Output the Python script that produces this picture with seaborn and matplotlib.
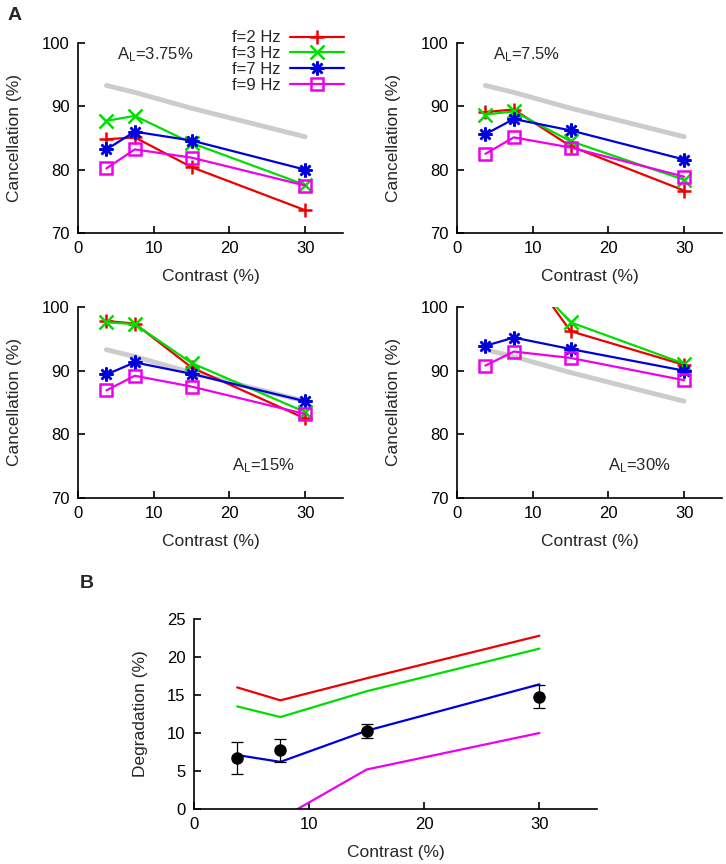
import numpy as np
import pandas as pd
import matplotlib
matplotlib.use("Agg")
import matplotlib.pyplot as plt
import seaborn as sns

sns.set_style("ticks")
plt.rcParams['font.family'] = ['Liberation Sans', 'DejaVu Sans']
plt.rcParams['mathtext.default'] = 'regular'

contrast = [3.75, 7.5, 15, 30]
freqs = ['f=2 Hz', 'f=3 Hz', 'f=7 Hz', 'f=9 Hz']
colors = ['#ee0000', '#00dd00', '#0000dd', '#ee00ee']
markers = ['+', 'x', (8, 2, 0), 's']

# gray reference curve (same in all four panels)
reference = [93.3, 92.2, 89.7, 85.2]

amp_labels = ['3.75%', '7.5%', '15%', '30%']
cancel_375 = [[84.8, 85.1, 80.4, 73.6],
              [87.7, 88.5, 84.2, 77.6],
              [83.2, 86.0, 84.6, 80.0],
              [80.2, 83.2, 81.9, 77.5]]
cancel_75 = [[89.1, 89.5, 83.7, 76.7],
             [88.7, 89.2, 84.5, 78.4],
             [85.6, 88.0, 86.2, 81.6],
             [82.5, 85.1, 83.5, 78.9]]
cancel_15 = [[97.8, 97.4, 90.5, 82.5],
             [97.6, 97.3, 91.2, 83.5],
             [89.4, 91.3, 89.5, 85.2],
             [86.9, 89.2, 87.5, 83.2]]
cancel_30 = [[110.0, 108.5, 96.2, 90.9],
             [109.0, 107.2, 97.6, 91.1],
             [93.9, 95.2, 93.4, 90.0],
             [90.8, 93.0, 92.0, 88.5]]
panels = [cancel_375, cancel_75, cancel_15, cancel_30]

# panel B
degradation = [[16.0, 14.3, 17.2, 22.8],
               [13.5, 12.1, 15.5, 21.1],
               [7.1, 6.2, 10.3, 16.4],
               [-3.0, -1.3, 5.2, 10.0]]
measured = [6.7, 7.7, 10.3, 14.8]
measured_err = [2.1, 1.45, 0.95, 1.55]

W, H = 726, 864
fig = plt.figure(figsize=(W / 100, H / 100), dpi=100)


def add_ax(left, top, right, bottom):
    return fig.add_axes([left / W, 1 - bottom / H, (right - left) / W, (bottom - top) / H])


def style_ax(ax):
    sns.despine(ax=ax)
    for s in ['left', 'bottom']:
        ax.spines[s].set_linewidth(1.2)
        ax.spines[s].set_color('black')
    ax.tick_params(direction='in', length=5, width=1.2, labelsize=12, pad=6, colors='black')
    ax.set_xlim(0, 35)
    ax.set_xticks([0, 10, 20, 30])
    ax.set_xlabel('Contrast (%)', fontsize=12.5, labelpad=9)


boxes = [(78, 43, 343, 233), (457, 43, 722, 233), (78, 307, 343, 498), (457, 307, 722, 498)]
text_pos = [(0.147, 0.937), (0.136, 0.937), (0.58, 0.168), (0.57, 0.168)]

handles = []
for i, (box, vals) in enumerate(zip(boxes, panels)):
    ax = add_ax(*box)
    sns.lineplot(x=contrast, y=reference, color='#cccccc', lw=3.5, ax=ax)
    for j in range(4):
        mfc = 'none' if markers[j] == 's' else colors[j]
        sns.lineplot(x=contrast, y=vals[j], color=colors[j], lw=1.6, marker=markers[j],
                     markersize=10 if markers[j] != 's' else 9, mew=1.8, mfc=mfc,
                     mec=colors[j], label=freqs[j], ax=ax, legend=False)
    if i == 0:
        handles = ax.get_lines()[1:5]
    ax.set_ylim(70, 100)
    ax.set_yticks([70, 80, 90, 100])
    ax.set_ylabel('Cancellation (%)', fontsize=12.5, labelpad=14)
    style_ax(ax)
    ax.text(text_pos[i][0], text_pos[i][1], 'A$_L$=' + amp_labels[i], transform=ax.transAxes,
            fontsize=12, va='center', ha='left')

fig.legend(handles, freqs, loc='upper right', bbox_to_anchor=(352 / W, 1 - 22 / H),
           frameon=False, markerfirst=False, fontsize=12, handlelength=3.2,
           labelspacing=0.05, borderpad=0, handletextpad=0.6)

axb = add_ax(194, 619, 597, 809)
for j in range(4):
    sns.lineplot(x=contrast, y=degradation[j], color=colors[j], lw=1.6, ax=axb)
axb.errorbar(contrast, measured, yerr=measured_err, fmt='o', color='black', ms=8,
             ecolor='black', elinewidth=0.9, capsize=4, capthick=0.9, zorder=5)
axb.set_ylim(0, 25)
axb.set_yticks([0, 5, 10, 15, 20, 25])
axb.set_ylabel('Degradation (%)', fontsize=12.5, labelpad=14)
style_ax(axb)

fig.text(8 / W, 1 - 15 / H, 'A', fontsize=14, fontweight='bold', va='center', ha='left')
fig.text(80 / W, 1 - 583 / H, 'B', fontsize=14, fontweight='bold', va='center', ha='left')

fig.savefig('out.png', dpi=100, facecolor='white')
